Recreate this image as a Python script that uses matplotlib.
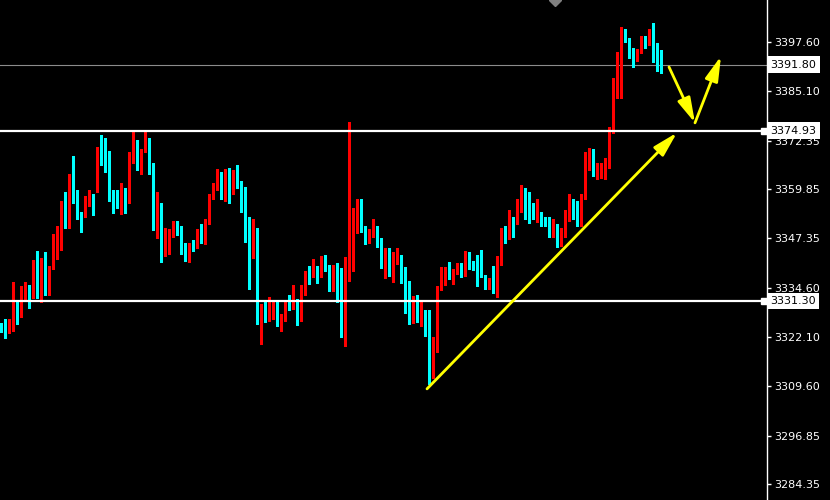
import numpy as np
import matplotlib.pyplot as plt
import matplotlib.transforms as mtransforms
from matplotlib.patches import FancyArrowPatch

# ---------------------------------------------------------------
# candle data (one bar per entry)
# ---------------------------------------------------------------
OPEN = [
    3325.1, 3324.9, 3323.4, 3323.9, 3330.5, 3329.5, 3332.3, 3333.8, 3332.3, 3334.1,
    3332.3, 3342.0, 3333.0, 3339.4, 3344.8, 3347.3, 3355.2, 3351.7, 3361.1, 3358.8,
    3353.7, 3352.9, 3355.7, 3356.3, 3362.9, 3369.3, 3367.5, 3367.2, 3358.3, 3357.3,
    3356.8, 3359.6, 3357.3, 3368.5, 3371.8, 3365.7, 3370.0, 3372.1, 3364.2, 3350.4,
    3355.5, 3343.0, 3345.3, 3347.8, 3351.4, 3349.1, 3344.5, 3344.8, 3345.8, 3345.5,
    3348.1, 3346.6, 3350.9, 3357.8, 3359.8, 3362.1, 3358.0, 3364.2, 3360.9, 3363.4,
    3361.6, 3355.0, 3349.1, 3346.6, 3348.1, 3329.0, 3329.5, 3328.2, 3328.7, 3330.7,
    3324.6, 3326.7, 3331.5, 3330.7, 3331.3, 3326.4, 3334.3, 3338.7, 3338.1, 3339.2,
    3337.6, 3342.0, 3340.2, 3334.8, 3339.4, 3334.8, 3326.9, 3337.9, 3343.5, 3348.9,
    3354.7, 3350.4, 3346.8, 3348.4, 3349.6, 3346.6, 3340.7, 3344.0, 3341.2, 3341.2,
    3342.7, 3339.7, 3335.6, 3325.9, 3329.2, 3325.6, 3326.2, 3324.6, 3313.4, 3319.0,
    3334.3, 3336.6, 3338.9, 3337.4, 3338.7, 3339.9, 3341.5, 3343.2, 3340.4, 3339.9,
    3337.9, 3337.9, 3334.6, 3337.1, 3332.3, 3342.0, 3349.9, 3347.1, 3352.4, 3351.2,
    3354.0, 3359.8, 3355.5, 3355.0, 3353.7, 3354.0, 3352.4, 3351.7, 3348.4, 3349.6,
    3347.8, 3349.1, 3352.2, 3356.5, 3354.2, 3350.9, 3357.5, 3366.5, 3368.2, 3364.4,
    3365.7, 3365.7, 3365.7, 3375.1, 3386.9, 3388.4, 3400.1, 3397.8, 3395.5, 3393.0,
    3395.0, 3398.6, 3397.1, 3399.4, 3396.3, 3394.3,
]
HIGH = [
    3325.6, 3326.7, 3326.7, 3336.1, 3331.5, 3335.1, 3336.1, 3335.3, 3341.7, 3344.0,
    3342.2, 3343.8, 3340.2, 3348.4, 3350.4, 3357.0, 3359.1, 3363.7, 3368.5, 3359.6,
    3354.0, 3358.3, 3359.8, 3358.8, 3370.8, 3373.9, 3373.1, 3369.8, 3359.6, 3359.6,
    3361.6, 3360.3, 3369.5, 3374.9, 3372.6, 3370.3, 3374.6, 3373.1, 3366.7, 3359.3,
    3356.5, 3349.9, 3349.6, 3351.9, 3351.7, 3350.6, 3346.1, 3346.1, 3346.8, 3349.6,
    3350.9, 3352.2, 3358.6, 3361.4, 3365.2, 3364.2, 3365.2, 3365.4, 3364.9, 3366.2,
    3361.9, 3360.6, 3352.7, 3352.2, 3350.1, 3330.5, 3331.5, 3332.3, 3331.3, 3331.3,
    3327.9, 3331.5, 3332.8, 3335.3, 3331.8, 3335.3, 3338.9, 3340.2, 3342.0, 3340.2,
    3342.7, 3343.0, 3340.4, 3340.4, 3341.0, 3339.7, 3342.5, 3377.2, 3355.2, 3357.3,
    3357.5, 3350.6, 3349.6, 3352.2, 3350.4, 3347.3, 3344.8, 3344.8, 3343.8, 3344.8,
    3343.0, 3339.9, 3336.4, 3332.5, 3332.8, 3331.5, 3329.0, 3329.0, 3322.1, 3335.1,
    3339.9, 3339.9, 3341.2, 3339.4, 3341.0, 3341.0, 3344.0, 3343.8, 3341.5, 3343.0,
    3344.3, 3337.9, 3337.1, 3340.2, 3342.7, 3350.1, 3350.4, 3354.7, 3352.7, 3357.5,
    3361.1, 3360.3, 3359.1, 3356.5, 3357.5, 3354.0, 3352.9, 3352.9, 3352.2, 3350.9,
    3349.9, 3354.7, 3358.6, 3357.3, 3356.8, 3358.8, 3369.5, 3370.5, 3370.3, 3366.7,
    3366.7, 3368.0, 3375.9, 3388.4, 3395.0, 3401.4, 3400.9, 3398.6, 3396.1, 3395.8,
    3399.1, 3399.1, 3400.9, 3402.4, 3397.3, 3395.5,
]
LOW = [
    3323.4, 3321.8, 3323.1, 3323.6, 3325.4, 3327.2, 3331.8, 3329.5, 3332.0, 3332.0,
    3331.0, 3332.8, 3332.8, 3339.4, 3342.0, 3344.3, 3349.9, 3350.1, 3356.5, 3352.4,
    3348.9, 3352.9, 3355.5, 3353.2, 3359.1, 3366.0, 3364.4, 3357.0, 3353.7, 3355.2,
    3353.5, 3353.7, 3356.3, 3366.5, 3364.9, 3363.7, 3369.5, 3363.9, 3349.4, 3347.3,
    3341.2, 3342.7, 3343.2, 3347.6, 3348.1, 3343.2, 3341.5, 3341.2, 3344.0, 3344.8,
    3346.1, 3345.8, 3350.9, 3357.5, 3359.8, 3357.3, 3357.0, 3356.5, 3358.6, 3360.3,
    3354.2, 3346.3, 3334.3, 3342.2, 3325.4, 3320.3, 3325.9, 3326.2, 3326.7, 3324.9,
    3323.6, 3326.2, 3329.0, 3329.2, 3325.1, 3326.2, 3332.8, 3335.6, 3337.4, 3335.9,
    3337.4, 3338.9, 3333.8, 3333.8, 3331.0, 3322.1, 3319.8, 3336.4, 3338.9, 3348.6,
    3348.9, 3345.8, 3346.1, 3347.8, 3345.0, 3339.7, 3337.1, 3337.6, 3336.1, 3340.7,
    3335.9, 3328.2, 3325.4, 3325.6, 3325.9, 3324.9, 3322.3, 3310.1, 3311.6, 3318.3,
    3334.1, 3335.3, 3336.9, 3335.6, 3338.1, 3337.4, 3337.6, 3339.4, 3339.2, 3335.1,
    3337.4, 3334.3, 3334.3, 3333.3, 3332.3, 3340.4, 3346.1, 3347.1, 3347.8, 3350.9,
    3354.0, 3352.2, 3351.2, 3352.4, 3351.4, 3350.4, 3350.4, 3347.6, 3347.8, 3345.0,
    3345.3, 3347.8, 3351.9, 3352.2, 3350.6, 3350.6, 3357.5, 3364.9, 3363.4, 3362.6,
    3362.9, 3362.6, 3365.4, 3374.4, 3383.3, 3383.3, 3397.6, 3393.5, 3391.2, 3392.7,
    3394.8, 3396.1, 3396.8, 3392.5, 3390.2, 3389.7,
]
CLOSE = [
    3324.1, 3323.6, 3324.1, 3330.5, 3329.5, 3332.5, 3333.8, 3332.3, 3334.1, 3332.3,
    3342.0, 3332.8, 3339.7, 3345.0, 3347.6, 3355.2, 3351.7, 3361.1, 3358.6, 3353.5,
    3352.9, 3356.0, 3356.3, 3355.5, 3369.0, 3367.2, 3367.0, 3358.3, 3357.0, 3356.8,
    3359.6, 3357.3, 3368.8, 3371.8, 3365.7, 3370.3, 3372.1, 3363.9, 3350.4, 3355.5,
    3343.0, 3345.3, 3348.1, 3351.4, 3348.9, 3344.3, 3343.5, 3346.1, 3345.3, 3347.8,
    3346.6, 3351.2, 3358.0, 3360.1, 3362.1, 3357.8, 3364.2, 3360.9, 3363.4, 3360.9,
    3354.7, 3348.9, 3346.8, 3348.1, 3329.0, 3329.5, 3328.2, 3329.0, 3330.7, 3324.9,
    3326.9, 3331.3, 3330.7, 3331.3, 3326.4, 3334.6, 3338.4, 3338.1, 3339.2, 3337.6,
    3342.2, 3339.9, 3334.8, 3339.4, 3334.6, 3327.2, 3338.1, 3344.0, 3349.1, 3354.7,
    3350.1, 3346.8, 3347.6, 3349.6, 3346.3, 3340.7, 3344.0, 3341.5, 3342.0, 3342.7,
    3339.2, 3331.8, 3325.9, 3329.2, 3325.9, 3326.2, 3324.6, 3313.4, 3319.3, 3334.3,
    3336.9, 3338.9, 3337.4, 3338.7, 3339.9, 3338.9, 3343.5, 3340.2, 3339.7, 3337.6,
    3337.6, 3334.6, 3337.1, 3333.3, 3342.5, 3349.9, 3347.3, 3352.4, 3351.2, 3354.2,
    3359.8, 3355.2, 3354.7, 3353.7, 3354.0, 3352.2, 3351.4, 3348.4, 3350.1, 3347.8,
    3349.4, 3352.4, 3356.5, 3354.0, 3350.9, 3357.8, 3366.5, 3368.2, 3364.4, 3365.7,
    3366.0, 3367.5, 3375.6, 3387.1, 3388.4, 3400.1, 3397.6, 3395.3, 3393.0, 3395.3,
    3398.6, 3396.6, 3399.1, 3396.1, 3394.0, 3391.8,
]

LEVELS = [3374.93, 3331.30]      # white support / resistance lines
LAST_PRICE = 3391.80             # grey bid line
Y_TICKS = [3397.60, 3385.10, 3372.35, 3359.85, 3347.35,
           3334.60, 3322.10, 3309.60, 3296.85, 3284.35]

# hand drawn yellow arrows: (bar, price) -> (bar, price)
ARROWS = [
    (106.5, 3308.8, 169.0, 3374.4),
    (167.0, 3391.2, 173.5, 3376.9),
    (173.5, 3376.9, 180.0, 3394.0),
]

UP_COLOR = '#FF0000'
DOWN_COLOR = '#00FFFF'
ARROW_COLOR = '#FFFF00'

# ---------------------------------------------------------------
# figure
# ---------------------------------------------------------------
fig = plt.figure(figsize=(8.3, 5), dpi=100, facecolor='black')
ax = fig.add_axes([0, 0, 767 / 830, 1])
ax.set_facecolor('black')

o = np.array(OPEN)
h = np.array(HIGH)
l = np.array(LOW)
c = np.array(CLOSE)
x = np.arange(len(o))
colors = np.where(c >= o, UP_COLOR, DOWN_COLOR)

ax.vlines(x, l, h, colors=colors, linewidth=0.75, antialiased=False, zorder=3)
ax.bar(x, np.maximum(np.abs(c - o), 0.3), bottom=np.minimum(o, c), width=0.58,
       color=colors, linewidth=0, antialiased=False, zorder=3)

# level lines
for lvl in LEVELS:
    ax.axhline(lvl, color='white', linewidth=1.6, zorder=4)
ax.axhline(LAST_PRICE, color='#8c8c8c', linewidth=0.8, zorder=2)

# yellow arrows
for x0, y0, x1, y1 in ARROWS:
    ax.add_patch(FancyArrowPatch((x0, y0), (x1, y1),
                                 arrowstyle='-|>,head_length=15,head_width=4',
                                 mutation_scale=1, color=ARROW_COLOR, lw=2.0,
                                 shrinkA=0, shrinkB=0, zorder=5))

ax.set_xlim(-0.25, 191.5)
ax.set_ylim(3280.35, 3408.35)

# small grey object marker at the top edge
ax.plot([138.5], [3408.35], marker='D', markersize=6, color='#808080', zorder=5)

# right price scale
ax.yaxis.tick_right()
ax.set_yticks(Y_TICKS)
ax.set_yticklabels([f'{v:.2f}' for v in Y_TICKS])
ax.tick_params(axis='y', colors='white', length=3, width=1, pad=2.5, labelsize=8)
ax.set_xticks([])
for side in ['top', 'left', 'bottom']:
    ax.spines[side].set_visible(False)
ax.spines['right'].set_color('white')
ax.spines['right'].set_linewidth(1)

# price boxes on the scale
trans = mtransforms.blended_transform_factory(ax.transAxes, ax.transData)
for val in LEVELS + [LAST_PRICE]:
    ax.annotate(f'{val:.2f}', xy=(1, val), xycoords=trans, xytext=(2.5, 0),
                textcoords='offset points', ha='left', va='center', fontsize=8,
                color='black', annotation_clip=False, zorder=6,
                bbox=dict(boxstyle='square,pad=0.3', fc='white', ec='none'))
for lvl in LEVELS:
    ax.plot([0.996], [lvl], marker='s', markersize=4, color='white',
            transform=trans, clip_on=False, zorder=6)

plt.savefig('out.png', dpi=100, facecolor='black')
